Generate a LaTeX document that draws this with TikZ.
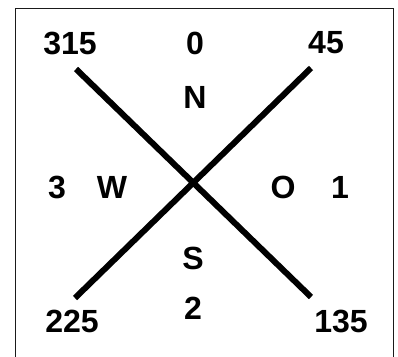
\documentclass[tikz,border=0pt]{standalone}
\usepackage{fontspec}
\setsansfont{Liberation Sans}
\usepackage{xcolor}
\usepackage{tikz}
\usetikzlibrary{positioning}
\definecolor{ink}{HTML}{000000}
\definecolor{frame}{HTML}{1A1A1A}
\tikzset{
  dirlabel/.style={
    font=\sffamily\bfseries\fontsize{22.8}{26}\selectfont,
    text=ink, inner sep=0pt, anchor=center
  },
  crossline/.style={
    line width=0.15cm, color=ink, line cap=butt
  },
  framebox/.style={
    draw=frame, line width=1.2pt
  },
}

\begin{document}
\begin{tikzpicture}[x=0.025cm, y=-0.025cm]
  \useasboundingbox (0,0) rectangle (398,356);
  \clip (0,0) rectangle (398,356);
  \draw[framebox] (15.5,8.5) rectangle (393.5,380);

  % end points of the two diagonals
  \coordinate (nw) at (76,69);
  \coordinate (se) at (311,297);
  \coordinate (ne) at (311,68);
  \coordinate (sw) at (75,298);

  \draw[crossline] (nw) -- (se);
  \draw[crossline] (ne) -- (sw);

  % degree labels
  \node[dirlabel] (d315) at (70,43) {315};
  \node[dirlabel] (d0)   at (195,43) {0};
  \node[dirlabel] (d45)  at (326,43) {45};
  \node[dirlabel] (d3)   at (57,187) {3};
  \node[dirlabel] (d1)   at (340,187) {1};
  \node[dirlabel] (d2)   at (193,308) {2};
  \node[dirlabel] (d225) at (72,321) {225};
  \node[dirlabel] (d135) at (341,321) {135};

  % compass letters
  \node[dirlabel] (north) at (195,97) {N};
  \node[dirlabel] (west)  at (112,187) {W};
  \node[dirlabel] (east)  at (283,187) {O};
  \node[dirlabel] (south) at (193,258) {S};
\end{tikzpicture}
\end{document}
